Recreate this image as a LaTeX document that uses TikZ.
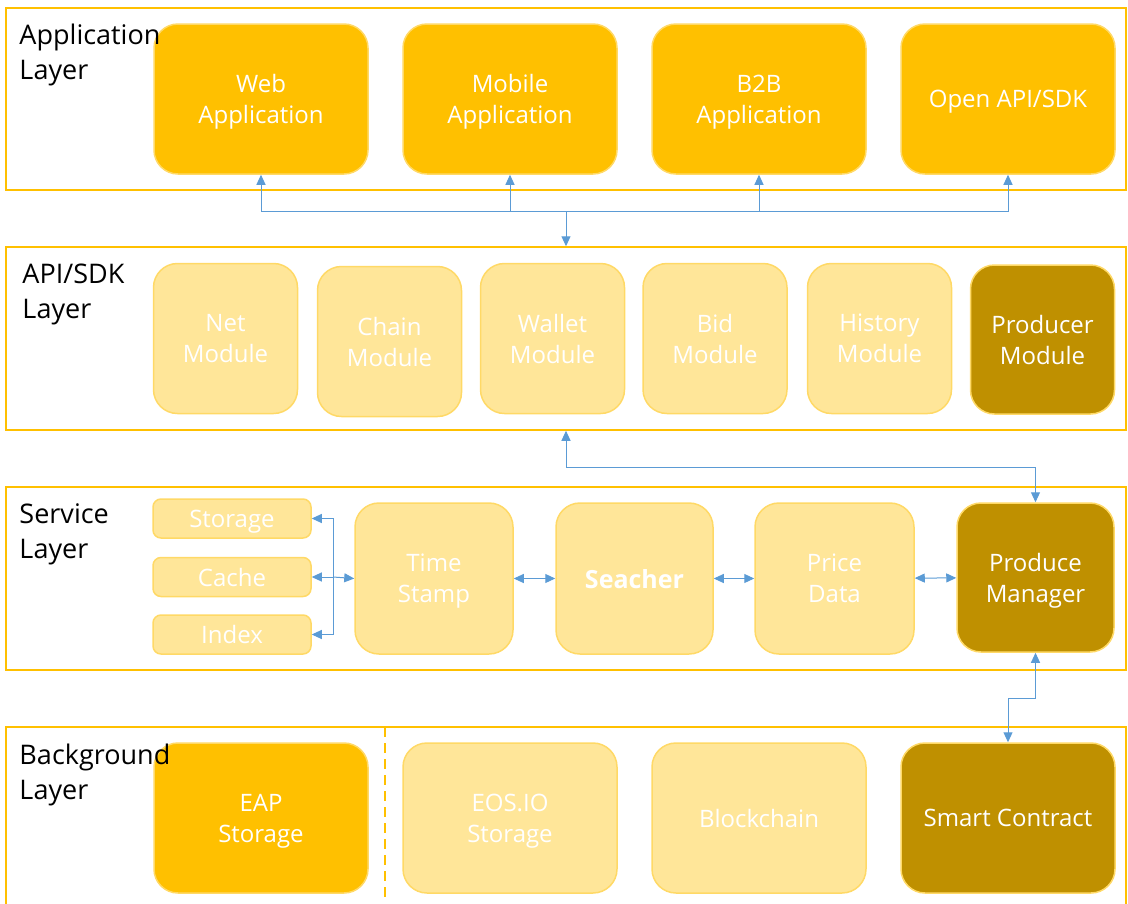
\documentclass[tikz,border=0pt]{standalone}
\usepackage{fontspec}
\setmainfont{Open Sans}
\usepackage{tikz}
\usetikzlibrary{arrows.meta}
\definecolor{gold}{HTML}{FFC000}
\definecolor{pale}{HTML}{FFE699}
\definecolor{rim}{HTML}{FFD966}
\definecolor{dark}{HTML}{BF9000}
\definecolor{wire}{HTML}{5B9BD5}

\begin{document}
\begin{tikzpicture}[x=1pt,y=-1pt,>={Triangle[length=10pt,width=9pt]},line width=1pt,
  layer/.style={draw=gold,line width=1.5pt,inner sep=0pt},
  layername/.style={anchor=north west,inner sep=0pt,align=left,font=\fontsize{27}{35}\selectfont},
  box/.style={rounded corners=24pt,draw=rim,line width=1.5pt,text=white,align=center,inner sep=0pt,text depth=0pt,font=\fontsize{24}{31}\selectfont},
  big/.style={box,minimum width=214pt,minimum height=150pt},
  module/.style={box,minimum width=144pt,minimum height=150pt},
  service/.style={box,minimum width=158pt,minimum height=151pt},
  small/.style={box,rounded corners=8pt,minimum width=158pt,minimum height=39pt}]
\clip (0,0) rectangle (1128,903);

% layers
\node[layer,minimum width=1120pt,minimum height=182pt] (applayer) at (566,99) {};
\node[layer,minimum width=1120pt,minimum height=183pt] (apilayer) at (566,338.5) {};
\node[layer,minimum width=1120pt,minimum height=183pt] (srvlayer) at (566,578.5) {};
\node[layer,minimum width=1120pt,minimum height=223pt] (bglayer) at (566,838.5) {};
\draw[gold,line width=1.5pt,dash pattern=on 10pt off 6pt] (385,727) -- (385,903);

% application layer
\node[big,fill=gold] (web) at (261,99) {Web\\Application};
\node[big,fill=gold] (mobile) at (510,99) {Mobile\\Application};
\node[big,fill=gold] (btob) at (759,99) {B2B\\Application};
\node[big,fill=gold] (open) at (1008,99) {Open API/SDK};

% api/sdk layer
\node[module,fill=pale] (net) at (225.5,338.5) {Net\\Module};
\node[module,fill=pale] (chain) at (389.5,341.5) {Chain\\Module};
\node[module,fill=pale] (wallet) at (552.5,338.5) {Wallet\\Module};
\node[module,fill=pale] (bid) at (715,338.5) {Bid\\Module};
\node[module,fill=pale] (history) at (879.5,338.5) {History\\Module};
\node[module,fill=dark,minimum height=149pt] (producer) at (1042.5,339.5) {Producer\\Module};

% service layer
\node[small,fill=pale] (storage) at (232,518.5) {Storage};
\node[small,fill=pale] (cache) at (232,577) {Cache};
\node[small,fill=pale] (index) at (232,634.5) {Index};
\node[service,fill=pale] (stamp) at (434,578.5) {Time\\Stamp};
\node[service,fill=pale,minimum width=157pt,font=\fontsize{25}{31}\selectfont\bfseries] (seacher) at (634.5,578.5) {Seacher};
\node[service,fill=pale,minimum width=159pt] (price) at (834.5,578.5) {Price\\Data};
\node[service,fill=dark,minimum width=157pt,minimum height=149pt] (pm) at (1035.5,577.5) {Produce\\Manager};

% background layer
\node[big,fill=gold] (eap) at (261,818) {EAP\\Storage};
\node[big,fill=pale] (eos) at (510,818) {EOS.IO\\Storage};
\node[big,fill=pale] (chainbg) at (759,818) {Blockchain};
\node[big,fill=dark] (smart) at (1008,818) {Smart Contract};

% layer names
\node[layername] (appname) at (19,23) {Application\\Layer};
\node[layername] (apiname) at (22,263) {API/SDK\\Layer};
\node[layername] (srvname) at (19,503) {Service\\Layer};
\node[layername] (bgname) at (19,743) {Background\\Layer};

% connectors
\coordinate (bus) at (566,211);
\coordinate (link) at (566,467);
\coordinate (turn) at (1008,698);
\coordinate (hub) at (333,577);

\begin{scope}[wire]
\draw[<-] (web.south) |- (bus);
\draw[<-] (mobile.south) |- (bus);
\draw[<-] (btob.south) |- (bus);
\draw[<-] (open.south) |- (bus);
\draw[->] (bus) -- (bus |- apilayer.north);
\draw[<->] (bus |- apilayer.south) -- (link) -| (pm.north);
\draw[<->] (pm.south) |- (turn) -- (smart.north);
\draw[->] (hub) |- (storage.east);
\draw[->] (hub) -- (cache.east);
\draw[->] (hub) |- (index.east);
\draw[->] (hub) -- (stamp.west);
\path[<->] (stamp) edge (seacher);
\path[<->] (seacher) edge (price);
\path[<->] (price) edge (pm);
\end{scope}
\end{tikzpicture}
\end{document}
